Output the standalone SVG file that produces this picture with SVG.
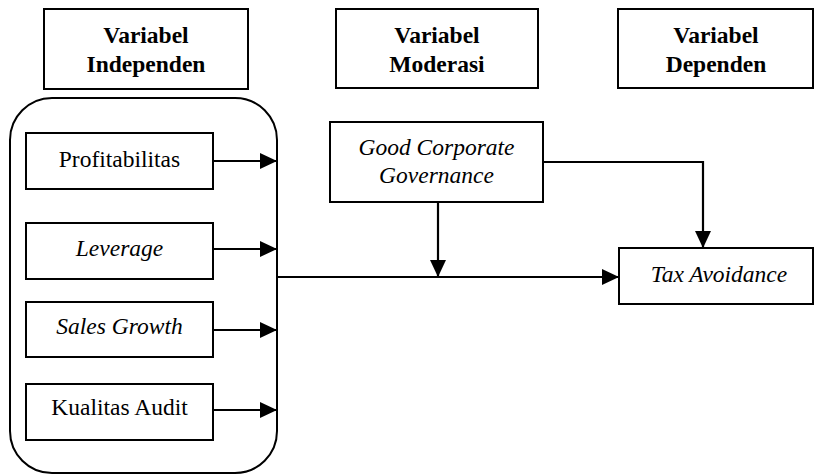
<svg xmlns="http://www.w3.org/2000/svg" width="814" height="475" viewBox="0 0 814 475">
<style>
.box{fill:#fff;stroke:#000;stroke-width:2}
.t{font-family:'Liberation Serif','DejaVu Serif',serif;font-size:23.5px;fill:#000;text-anchor:middle}
.b{font-weight:bold}
.i{font-style:italic}
.c{fill:none;stroke:#000;stroke-width:2.2}
</style>
<defs>
<marker id="ah" markerUnits="userSpaceOnUse" markerWidth="18" markerHeight="16" refX="17" refY="8" orient="auto">
<path d="M0,0 L17,8 L0,16 Z" fill="#000"/>
</marker>
</defs>
<rect width="814" height="475" fill="#fff"/>
<g id="h-independen">
<rect class="box" x="44" y="9" width="204" height="80"/>
<text class="t b" font-family="Liberation Serif" x="146" y="43">Variabel</text>
<text class="t b" font-family="Liberation Serif" x="146" y="72">Independen</text>
</g>
<g id="h-moderasi">
<rect class="box" x="336" y="9" width="202" height="79"/>
<text class="t b" x="437" y="43">Variabel</text>
<text class="t b" x="437" y="72">Moderasi</text>
</g>
<g id="h-dependen">
<rect class="box" x="618" y="9" width="195" height="79"/>
<text class="t b" x="716" y="43">Variabel</text>
<text class="t b" x="716" y="72">Dependen</text>
</g>
<g id="group-independen">
<rect class="box" x="10" y="98" width="267" height="375" rx="42" ry="42"/>
</g>
<g id="profitabilitas">
<rect class="box" x="26" y="133" width="187" height="56"/>
<text class="t" x="119.5" y="167">Profitabilitas</text>
</g>
<g id="leverage">
<rect class="box" x="26" y="223" width="187" height="56"/>
<text class="t i" x="119.5" y="256">Leverage</text>
</g>
<g id="sales-growth">
<rect class="box" x="26" y="302" width="187" height="55"/>
<text class="t i" x="119.5" y="334">Sales Growth</text>
</g>
<g id="kualitas-audit">
<rect class="box" x="26" y="384" width="187" height="56"/>
<text class="t" x="119.5" y="415">Kualitas Audit</text>
</g>
<g id="gcg">
<rect class="box" x="330" y="122" width="213" height="80"/>
<text class="t i" x="436.5" y="155">Good Corporate</text>
<text class="t i" x="436.5" y="183">Governance</text>
</g>
<g id="tax-avoidance">
<rect class="box" x="619" y="248" width="194" height="56"/>
<text class="t i" x="719" y="282">Tax Avoidance</text>
</g>
<g id="connectors">
<line class="c" x1="213" y1="161" x2="277" y2="161" marker-end="url(#ah)"/>
<line class="c" x1="213" y1="249" x2="277" y2="249" marker-end="url(#ah)"/>
<line class="c" x1="213" y1="330" x2="277" y2="330" marker-end="url(#ah)"/>
<line class="c" x1="213" y1="410" x2="277" y2="410" marker-end="url(#ah)"/>
<line class="c" x1="277" y1="277" x2="619" y2="277" marker-end="url(#ah)"/>
<line class="c" x1="438" y1="202" x2="438" y2="277" marker-end="url(#ah)"/>
<polyline class="c" points="543,162 703,162 703,248" marker-end="url(#ah)"/>
</g>
</svg>
